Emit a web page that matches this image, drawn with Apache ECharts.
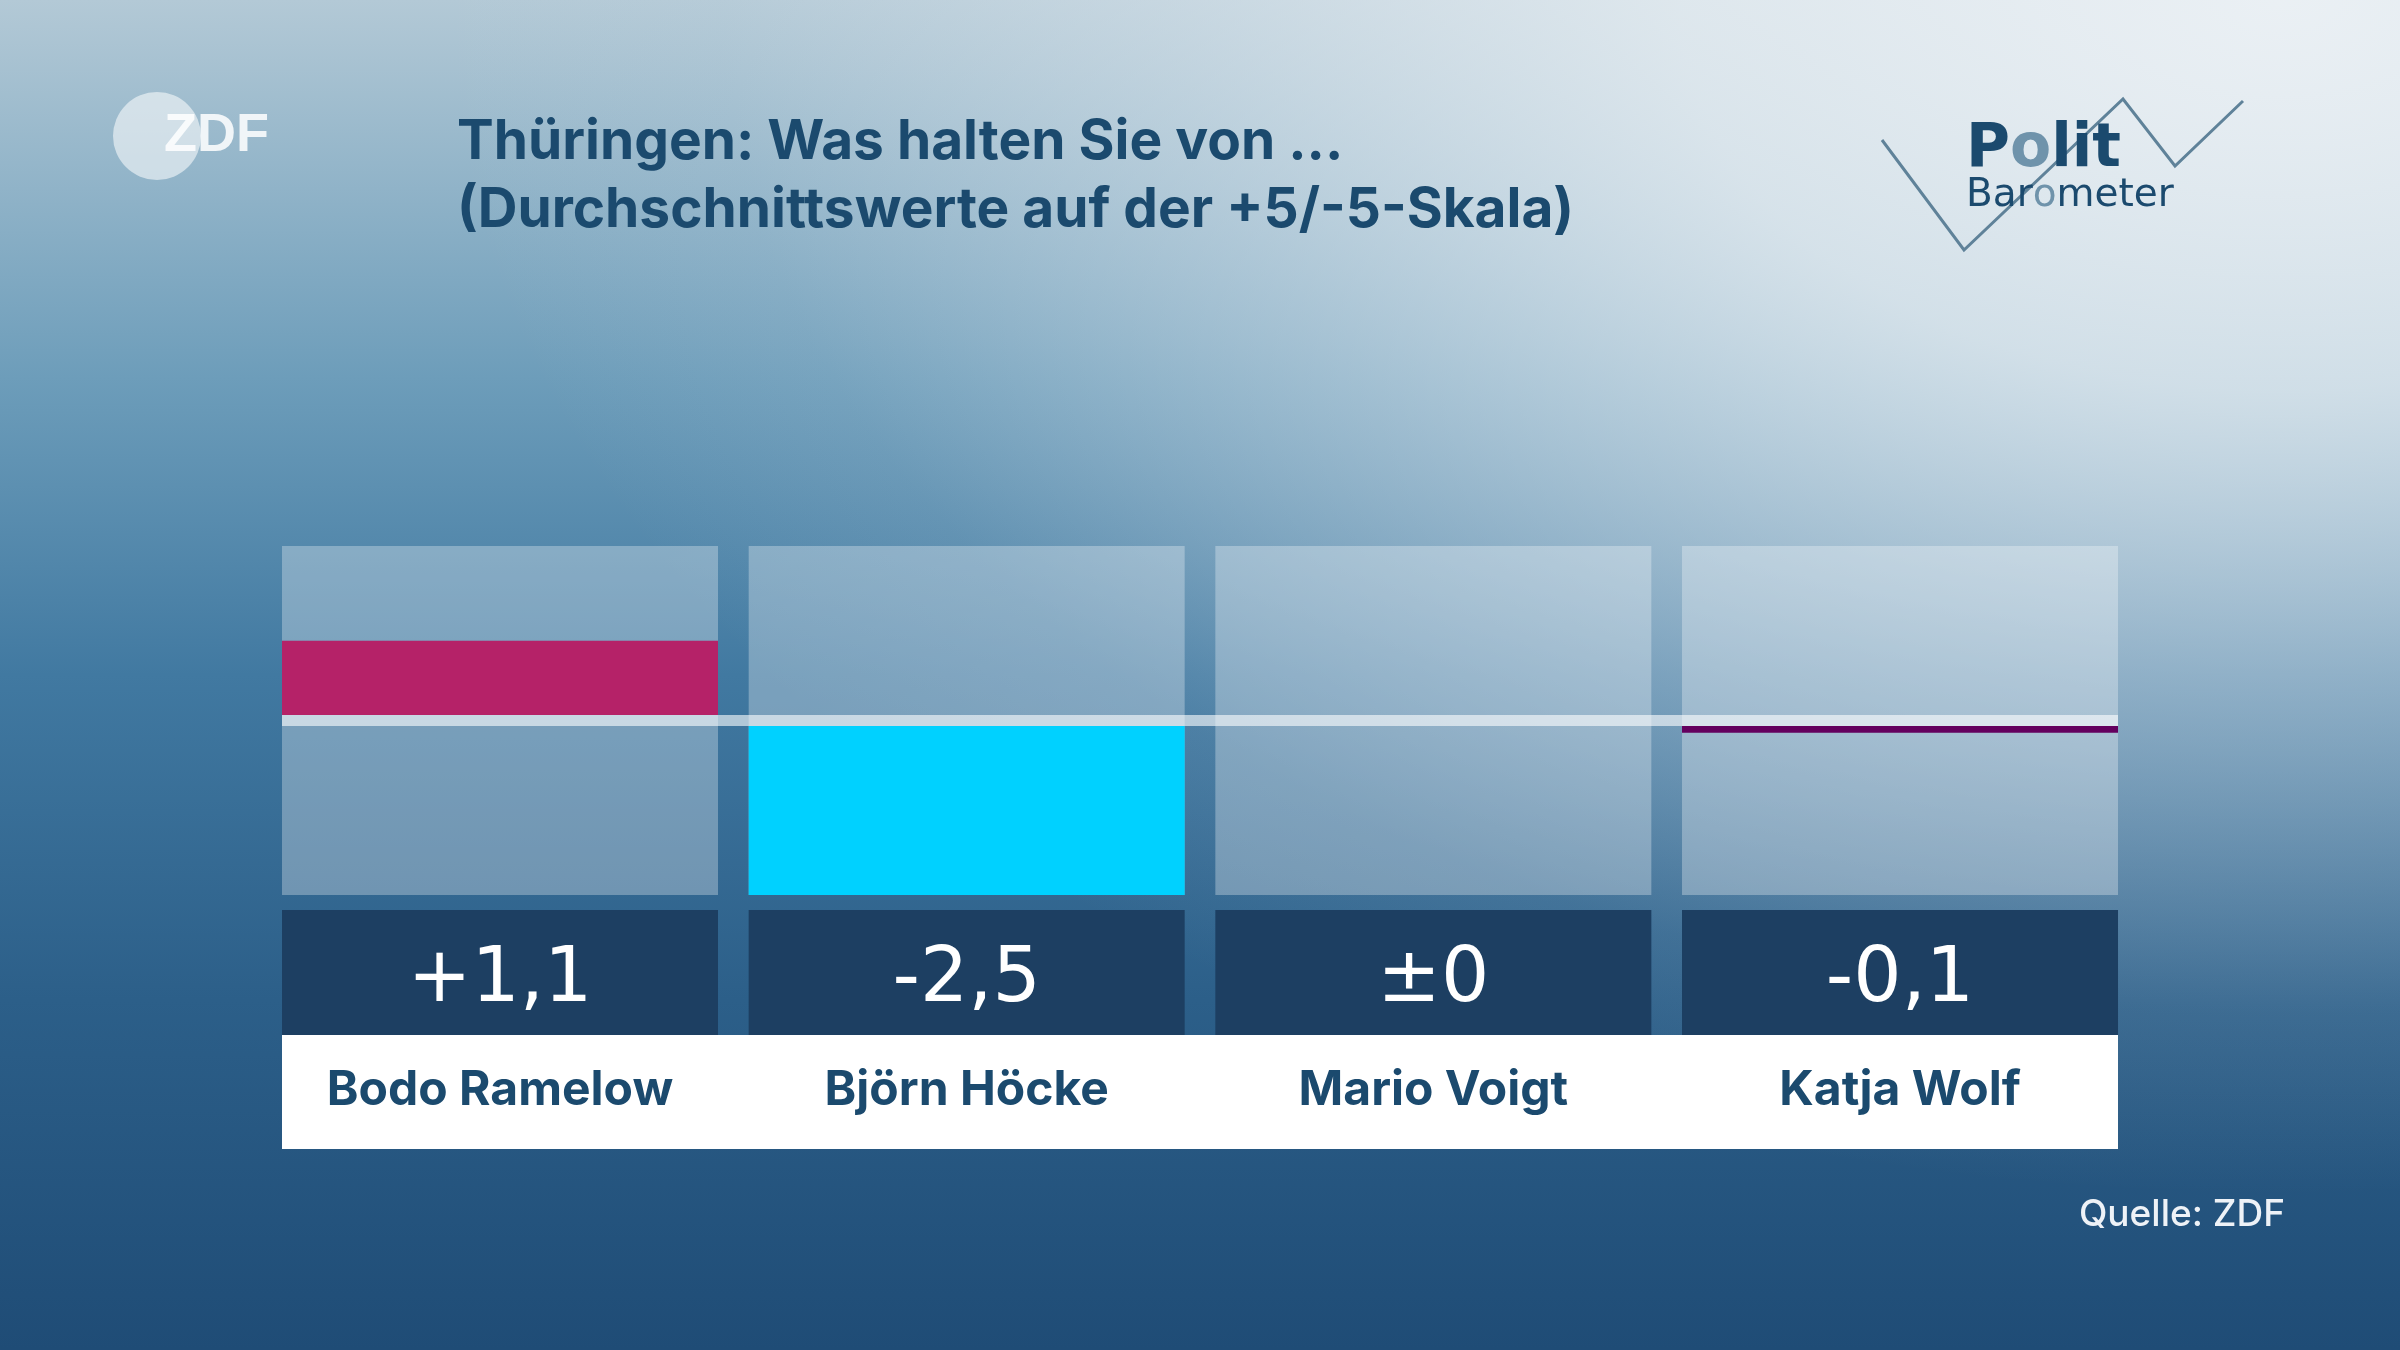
<!DOCTYPE html>
<html>
<head>
<meta charset="utf-8">
<script src="https://cdn.jsdelivr.net/npm/echarts@6/dist/echarts.min.js"></script>
<style>
  html, body { margin: 0; padding: 0; }
  #chart {
    width: 2400px; height: 1350px;
    background:
      radial-gradient(ellipse 2000px 1300px at 95% 0%,
        rgba(236,241,245,0.97) 0%,
        rgba(233,239,243,0.8) 30%,
        rgba(225,233,239,0.45) 55%,
        rgba(215,226,234,0.1) 78%,
        rgba(215,226,234,0) 92%),
      linear-gradient(to bottom, #b3c9d6 0%, #6d9dba 28%, #4179a1 50%, #2c5f89 74%, #1f4c76 100%);
  }
</style>
</head>
<body>
<div id="chart"></div>
<script>
// ---- data ----
const categories = ['Bodo Ramelow', 'Björn Höcke', 'Mario Voigt', 'Katja Wolf'];
const values = [1.1, -2.5, 0, -0.1];
const valueLabels = ['+1,1', '-2,5', '±0', '-0,1'];
const barColors = ['#b52268', '#00d1ff', '#1a1a1a', '#64005e'];
const scaleMax = 2.5;

// ---- layout ----
const PANEL_LEFT = 282, PANEL_W = 436, PITCH = 466.67;
const GRID_LEFT = PANEL_LEFT - (PITCH - PANEL_W) / 2;
const GRID_W = PITCH * categories.length;
const PANEL_TOP = 546, HALF_H = 169, BAND_H = 11;
const BOX_TOP = 910, BOX_H = 125, STRIP_H = 114;
const TXT = '#1b4a6e';

const posData = values.map(v => (v > 0 ? v : '-'));
const negData = values.map(v => (v < 0 ? v : '-'));

const chart = echarts.init(document.getElementById('chart'), null, { renderer: 'canvas' });

const gridBase = { left: GRID_LEFT, width: GRID_W };
const hiddenCat = (gi) => ({
  type: 'category', gridIndex: gi, data: categories, show: false
});

chart.setOption({
  backgroundColor: 'transparent',
  animation: false,
  grid: [
    Object.assign({ top: PANEL_TOP, height: HALF_H * 2 + BAND_H }, gridBase),
    Object.assign({ top: PANEL_TOP, height: HALF_H }, gridBase),
    Object.assign({ top: PANEL_TOP + HALF_H + BAND_H, height: HALF_H }, gridBase),
    Object.assign({ top: BOX_TOP, height: BOX_H }, gridBase)
  ],
  xAxis: [
    hiddenCat(0), hiddenCat(1), hiddenCat(2),
    {
      type: 'category', gridIndex: 3, data: valueLabels, position: 'top',
      axisLine: { show: false }, axisTick: { show: false },
      axisLabel: {
        inside: true, margin: BOX_H / 2 + 9, verticalAlign: 'middle',
        color: '#ffffff', fontFamily: '"DejaVu Sans"', fontWeight: 'normal', fontSize: 76
      },
      z: 10
    },
    {
      type: 'category', gridIndex: 3, data: categories, position: 'bottom',
      axisLine: { show: false }, axisTick: { show: false },
      axisLabel: {
        margin: 56, verticalAlign: 'middle',
        color: TXT, fontFamily: 'Inter', fontWeight: 700, fontSize: 48
      },
      z: 10
    }
  ],
  yAxis: [
    { type: 'value', gridIndex: 0, min: -scaleMax, max: scaleMax, show: false },
    { type: 'value', gridIndex: 1, min: 0, max: scaleMax, show: false },
    { type: 'value', gridIndex: 2, min: -scaleMax, max: 0, show: false },
    { type: 'value', gridIndex: 3, min: -scaleMax, max: scaleMax, show: false }
  ],
  series: [
    {
      type: 'bar', xAxisIndex: 0, yAxisIndex: 0, data: values, barWidth: PANEL_W,
      itemStyle: { color: 'rgba(0,0,0,0)' },
      showBackground: true, backgroundStyle: { color: 'rgba(255,255,255,0.3)' },
      silent: true, z: 1
    },
    {
      type: 'bar', xAxisIndex: 1, yAxisIndex: 1, data: posData, barWidth: PANEL_W,
      itemStyle: { color: p => barColors[p.dataIndex] }, z: 3
    },
    {
      type: 'bar', xAxisIndex: 2, yAxisIndex: 2, data: negData, barWidth: PANEL_W,
      itemStyle: { color: p => barColors[p.dataIndex] }, z: 3
    },
    {
      type: 'bar', xAxisIndex: 4, yAxisIndex: 3, data: values, barWidth: PANEL_W,
      itemStyle: { color: 'rgba(0,0,0,0)' },
      showBackground: true, backgroundStyle: { color: '#1d3f62', opacity: 1 },
      silent: true, z: 1
    }
  ],
  graphic: [
    // zero band
    { type: 'rect', z: 20, shape: { x: PANEL_LEFT, y: PANEL_TOP + HALF_H, width: PITCH * 3 + PANEL_W, height: BAND_H },
      style: { fill: 'rgba(255,255,255,0.6)' } },
    // white name strip
    { type: 'rect', z: -1, shape: { x: PANEL_LEFT, y: BOX_TOP + BOX_H, width: PITCH * 3 + PANEL_W, height: STRIP_H },
      style: { fill: '#ffffff' } },
    // ZDF logo
    { type: 'circle', shape: { cx: 157, cy: 136, r: 44 }, style: { fill: 'rgba(255,255,255,0.55)' } },
    { type: 'text', style: { text: 'ZDF', x: 164, y: 136, textVerticalAlign: 'middle',
        font: 'bold 54px "Liberation Sans"', fill: 'rgba(255,255,255,0.85)' } },
    // title
    { type: 'text', style: { text: 'Thüringen: Was halten Sie von ...', x: 457, y: 142, textVerticalAlign: 'middle',
        font: '700 55px Inter', fill: TXT } },
    { type: 'text', style: { text: '(Durchschnittswerte auf der +5/-5-Skala)', x: 457, y: 210, textVerticalAlign: 'middle',
        font: '700 55px Inter', fill: TXT } },
    // Politbarometer logo
    { type: 'polyline', shape: { points: [[1882, 140], [1964, 250], [2123, 99], [2175, 166], [2243, 101]] },
      style: { stroke: '#5f8299', lineWidth: 3, fill: null } },
    { type: 'text', z: 5, style: { text: '{a|P}{b|o}{a|lit}', x: 1966, y: 150, textVerticalAlign: 'middle',
        rich: {
          a: { font: 'bold 60px "DejaVu Sans"', fill: '#1b4a6e', color: '#1b4a6e' },
          b: { font: 'bold 60px "DejaVu Sans"', fill: '#6f93ab', color: '#6f93ab' }
        } } },
    { type: 'text', z: 5, style: { text: '{a|Bar}{b|o}{a|meter}', x: 1966, y: 196, textVerticalAlign: 'middle',
        rich: {
          a: { font: '39px "DejaVu Sans"', fill: '#1b4a6e', color: '#1b4a6e' },
          b: { font: '39px "DejaVu Sans"', fill: '#6f93ab', color: '#6f93ab' }
        } } },
    // source
    { type: 'text', style: { text: 'Quelle: ZDF', x: 2285, y: 1215, textAlign: 'right', textVerticalAlign: 'middle',
        font: '500 37px Inter', fill: '#eef2f7' } }
  ]
});
</script>
</body>
</html>
